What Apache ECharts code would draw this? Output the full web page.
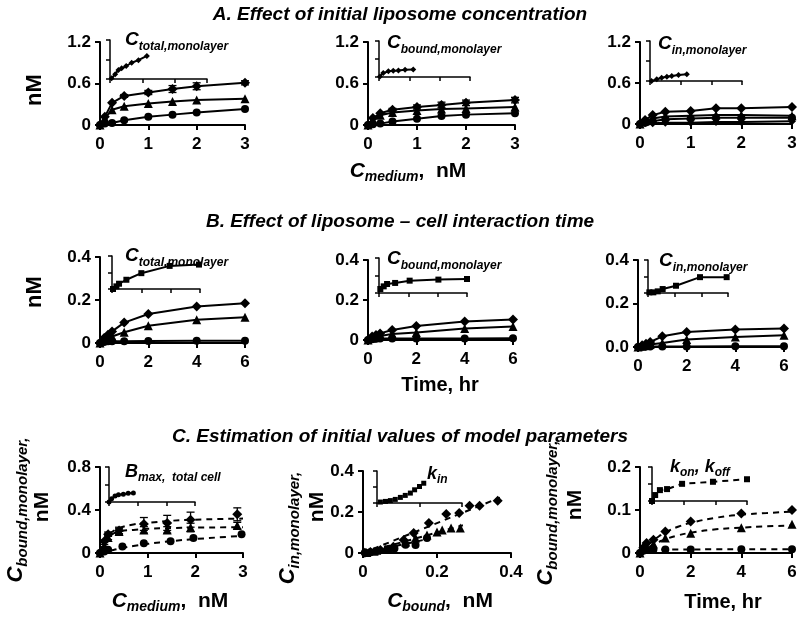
<!DOCTYPE html>
<html>
<head>
<meta charset="utf-8">
<script src="https://cdn.jsdelivr.net/npm/echarts@6/dist/echarts.min.js"></script>
<style>
  html, body { margin: 0; padding: 0; background: #fff; }
  #main { width: 800px; height: 620px; }
</style>
</head>
<body>
<div id="main"></div>
<script>
// ---- data ----
// A. liposome concentration (x = C_medium, nM)
var aX = [0, 0.1, 0.25, 0.5, 1, 1.5, 2, 3];
var a1Diamond = [0, 0.12, 0.32, 0.42, 0.47, 0.52, 0.56, 0.61];
var a1Triangle = [0, 0.1, 0.22, 0.27, 0.31, 0.34, 0.36, 0.38];
var a1Circle = [0, 0.02, 0.03, 0.07, 0.12, 0.15, 0.18, 0.23];
var a1DiamondErr = [0, 0, 0, 0.02, 0.03, 0.05, 0.05, 0.03];
var a2Diamond = [0, 0.1, 0.17, 0.22, 0.26, 0.29, 0.32, 0.36];
var a2Triangle = [0, 0.08, 0.14, 0.18, 0.21, 0.23, 0.24, 0.26];
var a2Circle = [0, 0.01, 0.02, 0.05, 0.09, 0.13, 0.15, 0.17];
var a2DiamondErr = [0, 0, 0, 0.02, 0.03, 0.04, 0.04, 0.04];
var a3Diamond = [0, 0.06, 0.13, 0.18, 0.19, 0.23, 0.23, 0.25];
var a3Triangle = [0, 0.04, 0.08, 0.11, 0.12, 0.13, 0.13, 0.12];
var a3Circle = [0, 0.02, 0.04, 0.07, 0.08, 0.09, 0.09, 0.09];
var a3Low = [0, 0.01, 0.01, 0.02, 0.02, 0.03, 0.03, 0.04];
var a1InsetX = [0.05, 0.16, 0.26, 0.36, 0.5, 0.67, 0.88, 1.14];
var a1InsetY = [0.02, 0.15, 0.28, 0.33, 0.4, 0.5, 0.58, 0.71];
var a2InsetX = [0.03, 0.14, 0.31, 0.47, 0.64, 0.86, 1.13];
var a2InsetY = [0.02, 0.13, 0.19, 0.21, 0.22, 0.24, 0.25];
var a3InsetX = [0.05, 0.22, 0.38, 0.55, 0.71, 0.93, 1.2];
var a3InsetY = [0, 0.05, 0.1, 0.13, 0.15, 0.18, 0.2];

// B. interaction time (x = time, hr)
var bX = [0, 0.17, 0.33, 0.5, 1, 2, 4, 6];
var b1Diamond = [0, 0.023, 0.038, 0.054, 0.095, 0.135, 0.17, 0.185];
var b1Triangle = [0, 0.015, 0.023, 0.03, 0.05, 0.08, 0.108, 0.12];
var b1Circle = [0, 0.005, 0.008, 0.008, 0.008, 0.009, 0.01, 0.011];
var b2Diamond = [0, 0.017, 0.025, 0.033, 0.05, 0.07, 0.092, 0.103];
var b2Triangle = [0, 0.01, 0.015, 0.02, 0.03, 0.037, 0.058, 0.067];
var b2Circle = [0, 0.004, 0.006, 0.007, 0.008, 0.008, 0.008, 0.009];
var b3Diamond = [0, 0.008, 0.015, 0.023, 0.049, 0.069, 0.08, 0.085];
var b3Triangle = [0, 0.004, 0.008, 0.012, 0.018, 0.034, 0.046, 0.054];
var b3Circle = [0, 0.001, 0.002, 0.002, 0.002, 0.002, 0.003, 0.003];
var b1InsetX = [0.07, 0.3, 0.48, 0.98, 2, 3.93, 5.93];
var b1InsetY = [0, 0.032, 0.064, 0.112, 0.192, 0.28, 0.296];
var b2InsetX = [0.09, 0.32, 0.55, 1.1, 2.09, 4.05, 6];
var b2InsetY = [0.046, 0.076, 0.103, 0.115, 0.141, 0.153, 0.16];
var b3InsetX = [0.1, 0.4, 0.73, 1.1, 2.1, 3.9, 5.9];
var b3InsetY = [0.008, 0.008, 0.02, 0.048, 0.088, 0.192, 0.192];

// C. parameter estimation
var c1DiamondX = [0, 0.09, 0.17, 0.4, 0.92, 1.41, 1.9, 2.88];
var c1Diamond = [0, 0.11, 0.175, 0.21, 0.27, 0.28, 0.31, 0.36];
var c1DiamondErr = [0, 0.01, 0.02, 0.03, 0.06, 0.07, 0.07, 0.06];
var c1TriangleX = [0, 0.09, 0.17, 0.4, 0.92, 1.41, 1.9, 2.88];
var c1Triangle = [0, 0.07, 0.145, 0.2, 0.215, 0.215, 0.237, 0.255];
var c1TriangleErr = [0, 0.01, 0.02, 0.03, 0.03, 0.03, 0.04, 0.03];
var c1CircleX = [0, 0.09, 0.17, 0.47, 0.92, 1.48, 1.96, 2.97];
var c1Circle = [0, 0.015, 0.03, 0.06, 0.09, 0.11, 0.14, 0.175];
var c1FitX = [0, 0.05, 0.1, 0.2, 0.4, 0.7, 1, 1.5, 2, 3];
var c1FitTop = [0, 0.08, 0.13, 0.18, 0.23, 0.265, 0.28, 0.3, 0.31, 0.32];
var c1FitMid = [0, 0.07, 0.12, 0.16, 0.2, 0.215, 0.225, 0.232, 0.236, 0.24];
var c1FitLow = [0, 0.005, 0.01, 0.02, 0.04, 0.065, 0.085, 0.11, 0.13, 0.16];
var c1InsetX = [0, 0.09, 0.21, 0.33, 0.5, 0.67, 0.85];
var c1InsetY = [0, 0.076, 0.137, 0.168, 0.18, 0.2, 0.206];

var c2DiamondX = [0.005, 0.02, 0.047, 0.082, 0.11, 0.137, 0.178, 0.225, 0.26, 0.288, 0.315, 0.364];
var c2Diamond = [0.001, 0.005, 0.015, 0.03, 0.063, 0.097, 0.146, 0.19, 0.195, 0.23, 0.23, 0.255];
var c2TriangleX = [0.01, 0.03, 0.06, 0.115, 0.142, 0.173, 0.2, 0.214, 0.238, 0.263];
var c2Triangle = [0.002, 0.008, 0.02, 0.054, 0.073, 0.088, 0.102, 0.112, 0.122, 0.122];
var c2CircleX = [0.005, 0.02, 0.04, 0.07, 0.085, 0.115, 0.142, 0.173];
var c2Circle = [0.001, 0.004, 0.01, 0.02, 0.022, 0.04, 0.039, 0.073];
var c2FitX = [0, 0.37];
var c2FitTop = [0, 0.27];
var c2FitX2 = [0, 0.27];
var c2FitMid = [0, 0.135];
var c2FitX3 = [0, 0.18];
var c2FitLow = [0, 0.07];
var c2InsetX = [0.016, 0.04, 0.063, 0.086, 0.11, 0.133, 0.157, 0.177, 0.2, 0.22];
var c2InsetY = [0.012, 0.02, 0.03, 0.045, 0.07, 0.095, 0.124, 0.165, 0.206, 0.247];

var cX = [0, 0.13, 0.26, 0.53, 1, 2, 4, 6];
var c3Diamond = [0, 0.012, 0.023, 0.031, 0.05, 0.073, 0.092, 0.1];
var c3Triangle = [0, 0.008, 0.015, 0.021, 0.035, 0.046, 0.059, 0.067];
var c3Circle = [0, 0.005, 0.007, 0.008, 0.008, 0.008, 0.009, 0.009];
var c3FitX = [0, 0.25, 0.5, 0.75, 1, 1.5, 2, 3, 4, 5, 6];
var c3FitTop = [0, 0.015, 0.028, 0.039, 0.048, 0.061, 0.07, 0.082, 0.089, 0.093, 0.096];
var c3FitMid = [0, 0.01, 0.019, 0.026, 0.032, 0.041, 0.047, 0.055, 0.059, 0.062, 0.064];
var c3FitLow = [0, 0.007, 0.008, 0.008, 0.008, 0.008, 0.008, 0.009, 0.009, 0.009, 0.009];
var c3InsetX = [0, 0.2, 0.5, 0.95, 1.9, 3.85, 6];
var c3InsetY = [0, 0.035, 0.064, 0.07, 0.101, 0.113, 0.128];

// ---- building ----
var FONT = 'Liberation Sans';
var grids = [], xAxes = [], yAxes = [], series = [];

function addGrid(box, xr, yr, inset, yFmt) {
  var i = grids.length;
  grids.push({ left: box[0], top: box[1], width: box[2], height: box[3] });
  var lw = inset ? 1.5 : 2;
  var common = {
    gridIndex: i, type: 'value',
    axisLine: { onZero: false, lineStyle: { color: '#000', width: lw } },
    axisTick: { length: inset ? 4 : 5, lineStyle: { color: '#000', width: lw } },
    splitLine: { show: false },
    axisLabel: { show: !inset, color: '#000', fontSize: 17, fontWeight: 'bold', fontFamily: FONT }
  };
  xAxes.push(Object.assign({}, common, { min: xr[0], max: xr[1], interval: xr[2],
    axisLabel: Object.assign({}, common.axisLabel, { margin: 11 }) }));
  yAxes.push(Object.assign({}, common, { min: yr[0], max: yr[1], interval: yr[2],
    axisLabel: Object.assign({}, common.axisLabel, { margin: 9, formatter: yFmt }) }));
  return i;
}

function pairs(xs, ys) {
  return xs.map(function (x, k) { return [x, ys[k]]; });
}

function addLine(gi, xs, ys, sym, size, dashed) {
  series.push({
    type: 'line', xAxisIndex: gi, yAxisIndex: gi, data: pairs(xs, ys),
    symbol: sym, symbolSize: size, showSymbol: !!sym,
    lineStyle: { color: '#000', width: 2, type: dashed ? [6, 5] : 'solid' },
    itemStyle: { color: '#000', opacity: 1 }, z: 3, silent: true
  });
}

function addFit(gi, xs, ys) {
  series.push({
    type: 'line', xAxisIndex: gi, yAxisIndex: gi, data: pairs(xs, ys),
    showSymbol: false, smooth: true,
    lineStyle: { color: '#000', width: 2, type: [6, 5] }, z: 2, silent: true
  });
}

function addDots(gi, xs, ys, sym, size) {
  series.push({
    type: 'scatter', xAxisIndex: gi, yAxisIndex: gi, data: pairs(xs, ys),
    symbol: sym, symbolSize: size, itemStyle: { color: '#000', opacity: 1 }, z: 4, silent: true
  });
}

function addErr(gi, xs, ys, es) {
  var d = [];
  xs.forEach(function (x, k) { if (es[k] > 0) d.push([x, ys[k] - es[k], ys[k] + es[k]]); });
  series.push({
    type: 'custom', xAxisIndex: gi, yAxisIndex: gi, data: d, silent: true, z: 3,
    encode: { x: 0, y: [1, 2] },
    renderItem: function (params, api) {
      var hi = api.coord([api.value(0), api.value(2)]);
      var lo = api.coord([api.value(0), api.value(1)]);
      var w = 4, st = { stroke: '#000', lineWidth: 1.3 };
      return { type: 'group', children: [
        { type: 'line', shape: { x1: hi[0], y1: hi[1], x2: lo[0], y2: lo[1] }, style: st },
        { type: 'line', shape: { x1: hi[0] - w, y1: hi[1], x2: hi[0] + w, y2: hi[1] }, style: st },
        { type: 'line', shape: { x1: lo[0] - w, y1: lo[1], x2: lo[0] + w, y2: lo[1] }, style: st }
      ] };
    }
  });
}

var fixed1 = function (v) { return v.toFixed(1); };

// A row
var gA1 = addGrid([100, 42, 145, 83], [0, 3, 1], [0, 1.2, 0.6]);
var gA2 = addGrid([368, 42, 147, 83], [0, 3, 1], [0, 1.2, 0.6]);
var gA3 = addGrid([640, 42, 152, 82], [0, 3, 1], [0, 1.2, 0.6]);
var iA1 = addGrid([110, 40, 97, 39], [0, 3, 1], [0, 1.2, 0.6], true);
var iA2 = addGrid([379, 41, 91, 36], [0, 3, 1], [0, 1.2, 0.6], true);
var iA3 = addGrid([650, 41, 92, 40], [0, 3, 1], [0, 1.2, 0.6], true);

addErr(gA1, aX, a1Diamond, a1DiamondErr);
addLine(gA1, aX, a1Diamond, 'diamond', 10);
addLine(gA1, aX, a1Triangle, 'triangle', 9);
addLine(gA1, aX, a1Circle, 'circle', 8);
addErr(gA2, aX, a2Diamond, a2DiamondErr);
addLine(gA2, aX, a2Diamond, 'diamond', 10);
addLine(gA2, aX, a2Triangle, 'triangle', 9);
addLine(gA2, aX, a2Circle, 'circle', 8);
addLine(gA3, aX, a3Diamond, 'diamond', 10);
addLine(gA3, aX, a3Triangle, 'triangle', 9);
addLine(gA3, aX, a3Circle, 'circle', 8);
addLine(gA3, aX, a3Low, 'diamond', 8);
addLine(iA1, a1InsetX, a1InsetY, 'diamond', 6);
addLine(iA2, a2InsetX, a2InsetY, 'diamond', 6);
addLine(iA3, a3InsetX, a3InsetY, 'diamond', 6);

// B row
var gB1 = addGrid([100, 257, 145, 86], [0, 6, 2], [0, 0.4, 0.2]);
var gB2 = addGrid([368, 260, 145, 80], [0, 6, 2], [0, 0.4, 0.2]);
var gB3 = addGrid([638, 260, 146, 87], [0, 6, 2], [0, 0.4, 0.2], false, fixed1);
var iB1 = addGrid([112, 256, 88, 33], [0, 6, 2], [0, 0.4, 0.2], true);
var iB2 = addGrid([379, 258, 88, 35], [0, 6, 2], [0, 0.4, 0.2], true);
var iB3 = addGrid([648, 260, 80, 33], [0, 6, 2], [0, 0.4, 0.2], true);

addLine(gB1, bX, b1Diamond, 'diamond', 10);
addLine(gB1, bX, b1Triangle, 'triangle', 9);
addLine(gB1, bX, b1Circle, 'circle', 8);
addLine(gB2, bX, b2Diamond, 'diamond', 10);
addLine(gB2, bX, b2Triangle, 'triangle', 9);
addLine(gB2, bX, b2Circle, 'circle', 8);
addLine(gB3, bX, b3Diamond, 'diamond', 10);
addLine(gB3, bX, b3Triangle, 'triangle', 9);
addLine(gB3, bX, b3Circle, 'circle', 8);
addLine(iB1, b1InsetX, b1InsetY, 'rect', 6);
addLine(iB2, b2InsetX, b2InsetY, 'rect', 6);
addLine(iB3, b3InsetX, b3InsetY, 'rect', 6);

// C row
var gC1 = addGrid([100, 467, 143, 86], [0, 3, 1], [0, 0.8, 0.4]);
var gC2 = addGrid([363, 471, 148, 82], [0, 0.4, 0.2], [0, 0.4, 0.2]);
var gC3 = addGrid([640, 467, 152, 86], [0, 6, 2], [0, 0.2, 0.1]);
var iC1 = addGrid([109, 467, 86, 35], [0, 3, 1], [0, 0.8, 0.4], true);
var iC2 = addGrid([377, 471, 85, 32], [0, 0.4, 0.2], [0, 0.4, 0.2], true);
var iC3 = addGrid([652, 467, 95, 34], [0, 6, 2], [0, 0.2, 0.1], true);

addFit(gC1, c1FitX, c1FitTop);
addFit(gC1, c1FitX, c1FitMid);
addFit(gC1, c1FitX, c1FitLow);
addErr(gC1, c1DiamondX, c1Diamond, c1DiamondErr);
addErr(gC1, c1TriangleX, c1Triangle, c1TriangleErr);
addDots(gC1, c1DiamondX, c1Diamond, 'diamond', 10);
addDots(gC1, c1TriangleX, c1Triangle, 'triangle', 9);
addDots(gC1, c1CircleX, c1Circle, 'circle', 8);
addLine(iC1, c1InsetX, c1InsetY, 'circle', 5);

addFit(gC2, c2FitX, c2FitTop);
addFit(gC2, c2FitX2, c2FitMid);
addFit(gC2, c2FitX3, c2FitLow);
addDots(gC2, c2DiamondX, c2Diamond, 'diamond', 10);
addDots(gC2, c2TriangleX, c2Triangle, 'triangle', 9);
addDots(gC2, c2CircleX, c2Circle, 'circle', 8);
addDots(iC2, c2InsetX, c2InsetY, 'rect', 5);

addFit(gC3, c3FitX, c3FitTop);
addFit(gC3, c3FitX, c3FitMid);
addFit(gC3, c3FitX, c3FitLow);
addDots(gC3, cX, c3Diamond, 'diamond', 10);
addDots(gC3, cX, c3Triangle, 'triangle', 9);
addDots(gC3, cX, c3Circle, 'circle', 8);
addLine(iC3, c3InsetX, c3InsetY, 'rect', 6, true);

// ---- text ----
function txt(x, y, text, size, opts) {
  return Object.assign({
    type: 'text', x: x, y: y, z: 10, silent: true,
    style: Object.assign({
      text: text, fill: '#000', font: 'bold ' + size + 'px "' + FONT + '"',
      textAlign: 'center', textVerticalAlign: 'middle'
    }, (opts && opts.style) || {})
  }, (opts && opts.el) || {});
}

// label with a subscript: {c|C}{s|sub}{t|tail}
function sub(x, y, text, bigSize, smallSize, align, rot) {
  var base = { fontSize: bigSize, fontWeight: 'bold', fontStyle: 'italic', fontFamily: FONT, verticalAlign: 'bottom', lineHeight: bigSize + 2 };
  return {
    type: 'text', x: x, y: y, z: 10, silent: true, rotation: rot || 0,
    style: {
      text: text, fill: '#000', textAlign: align || 'left', textVerticalAlign: 'middle',
      rich: {
        c: base,
        s: Object.assign({}, base, { fontSize: smallSize, padding: [0, 0, -3, 0] }),
        t: Object.assign({}, base, { fontStyle: 'normal' })
      }
    }
  };
}

var italic = { style: { font: 'italic bold 19px "' + FONT + '"' } };
var graphics = [
  txt(400, 15, 'A. Effect of initial liposome concentration', 19, italic),
  txt(400, 222, 'B. Effect of liposome \u2013 cell interaction time', 19, italic),
  txt(400, 437, 'C. Estimation of initial values of model parameters', 19, italic),
  txt(35, 90, 'nM', 22, { el: { rotation: Math.PI / 2 } }),
  txt(35, 292, 'nM', 22, { el: { rotation: Math.PI / 2 } }),
  sub(408, 170, '{c|C}{s|medium}{t|,  nM}', 21, 14, 'center'),
  txt(440, 385, 'Time, hr', 20),
  sub(125, 39, '{c|C}{s|total,monolayer}', 19, 12),
  sub(387, 42, '{c|C}{s|bound,monolayer}', 19, 12),
  sub(658, 43, '{c|C}{s|in,monolayer}', 19, 12),
  sub(125, 255, '{c|C}{s|total,monolayer}', 19, 12),
  sub(387, 258, '{c|C}{s|bound,monolayer}', 19, 12),
  sub(659, 260, '{c|C}{s|in,monolayer}', 19, 12),
  sub(125, 471, '{c|B}{s|max,  total cell}', 18, 12),
  sub(427, 473, '{c|k}{s|in}', 18, 12),
  sub(670, 466, '{c|k}{s|on}{c|, k}{s|off}', 18, 12),
  // C row axis titles
  sub(15, 510, '{c|C}{s|bound,monolayer,}', 22, 15, 'center', Math.PI / 2),
  txt(42, 507, 'nM', 21, { el: { rotation: Math.PI / 2 } }),
  sub(170, 600, '{c|C}{s|medium}{t|,  nM}', 21, 14, 'center'),
  sub(287, 528, '{c|C}{s|in,monolayer,}', 22, 15, 'center', Math.PI / 2),
  txt(317, 507, 'nM', 21, { el: { rotation: Math.PI / 2 } }),
  sub(440, 600, '{c|C}{s|bound}{t|,  nM}', 21, 14, 'center'),
  sub(545, 513, '{c|C}{s|bound,monolayer,}', 22, 15, 'center', Math.PI / 2),
  txt(575, 505, 'nM', 21, { el: { rotation: Math.PI / 2 } }),
  txt(723, 602, 'Time, hr', 20)
];

var chart = echarts.init(document.getElementById('main'), null, { renderer: 'canvas' });
chart.setOption({
  animation: false,
  backgroundColor: '#fff',
  grid: grids,
  xAxis: xAxes,
  yAxis: yAxes,
  series: series,
  graphic: graphics
});
</script>
</body>
</html>
